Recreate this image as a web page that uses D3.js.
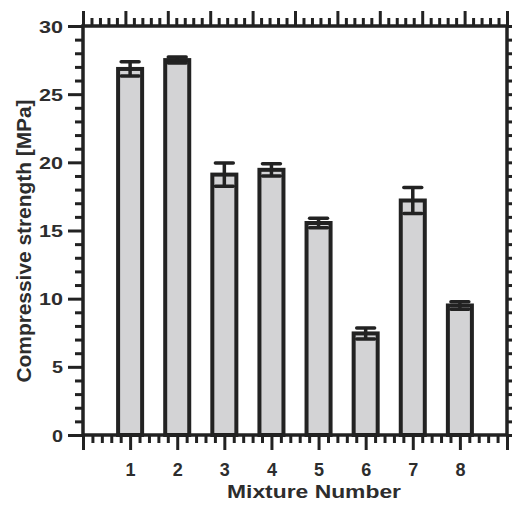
<!DOCTYPE html>
<html>
<head>
<meta charset="utf-8">
<script src="https://cdn.jsdelivr.net/npm/d3@7"></script>
<style>
  html, body { margin: 0; padding: 0; background: #fff; }
  svg { display: block; }
  text { font-family: "Liberation Sans", Arial, sans-serif; font-weight: bold; fill: #2d2d2d; }
</style>
</head>
<body>
<svg id="chart" width="512" height="506"></svg>
<script>
// Compressive strength per mixture (mean and standard deviation, MPa)
const mixtures = [1, 2, 3, 4, 5, 6, 7, 8];
const strength = [26.85, 27.5, 19.1, 19.45, 15.55, 7.45, 17.2, 9.5];
const stdev    = [0.52, 0.22, 0.85, 0.45, 0.35, 0.4, 0.95, 0.27];
const yTicks   = [0, 5, 10, 15, 20, 25, 30];
const xLabels  = ["1", "2", "3", "4", "5", "6", "7", "8"];
const xTitle   = "Mixture Number";
const yTitle   = "Compressive strength [MPa]";

const ink = "#222";
const textInk = "#2d2d2d";
const barFill = "#d3d3d5";

const svg = d3.select("#chart");
const frame = { left: 83, right: 507, top: 26, bottom: 435 };

const x = d3.scaleLinear().domain([0, 9]).range([frame.left, frame.right]);
const xTop = d3.scaleLinear().domain([0, 10]).range([frame.left, frame.right]);
const y = d3.scaleLinear().domain([0, 30]).range([frame.bottom, frame.top]);

const barW = x(0.51) - x(0);
const capW = x(0.38) - x(0);

// bars
svg.append("g").selectAll("rect")
  .data(mixtures)
  .join("rect")
  .attr("x", (d) => x(d) - barW / 2)
  .attr("y", (d, i) => y(strength[i]))
  .attr("width", barW)
  .attr("height", (d, i) => y(0) - y(strength[i]))
  .attr("fill", barFill)
  .attr("stroke", ink)
  .attr("stroke-width", 4);

// error bars
const eb = svg.append("g").attr("stroke", ink).attr("fill", "none");
mixtures.forEach((m, i) => {
  const cx = x(m), hi = y(strength[i] + stdev[i]), lo = y(strength[i] - stdev[i]);
  eb.append("line").attr("x1", cx).attr("x2", cx).attr("y1", hi).attr("y2", lo).attr("stroke-width", 3.5);
  eb.append("line").attr("x1", cx - capW / 2).attr("x2", cx + capW / 2).attr("y1", hi).attr("y2", hi).attr("stroke-width", 3.5).attr("stroke-linecap", "round");
  eb.append("line").attr("x1", cx - capW / 2).attr("x2", cx + capW / 2).attr("y1", lo).attr("y2", lo).attr("stroke-width", 3.5).attr("stroke-linecap", "round");
});

function styleAxis(g, w) {
  g.select(".domain").remove();
  g.selectAll(".tick line").attr("stroke", ink).attr("stroke-width", w);
}

const minorOf = (lo, hi, step, majorStep) =>
  d3.range(lo, hi + step / 2, step).filter((v) => Math.abs(v / majorStep - Math.round(v / majorStep)) > 1e-6);

// left axis
svg.append("g").attr("transform", `translate(${frame.left},0)`)
  .call(d3.axisLeft(y).tickValues(minorOf(0, 30, 1, 5)).tickSize(8).tickFormat(""))
  .call((g) => styleAxis(g, 3));
const left = svg.append("g").attr("transform", `translate(${frame.left},0)`)
  .call(d3.axisLeft(y).tickValues(yTicks).tickSize(15).tickPadding(5).tickFormat(d3.format("d")))
  .call((g) => styleAxis(g, 3));
left.selectAll(".tick text")
  .attr("font-size", 17).attr("fill", textInk).attr("font-family", null).attr("dy", "0.36em")
  .attr("textLength", (d) => (String(d).length > 1 ? 24 : 11))
  .attr("lengthAdjust", "spacingAndGlyphs");

// right axis
svg.append("g").attr("transform", `translate(${frame.right},0)`)
  .call(d3.axisRight(y).tickValues(minorOf(0, 30, 1, 5)).tickSize(8).tickFormat(""))
  .call((g) => styleAxis(g, 3));
svg.append("g").attr("transform", `translate(${frame.right},0)`)
  .call(d3.axisRight(y).tickValues(yTicks).tickSize(15).tickFormat(""))
  .call((g) => styleAxis(g, 3));

// top axis
svg.append("g").attr("transform", `translate(0,${frame.top})`)
  .call(d3.axisTop(xTop).tickValues(minorOf(0, 10, 0.2, 1)).tickSize(8).tickFormat(""))
  .call((g) => styleAxis(g, 3));
svg.append("g").attr("transform", `translate(0,${frame.top})`)
  .call(d3.axisTop(xTop).tickValues(d3.range(0, 11)).tickSize(15).tickFormat(""))
  .call((g) => styleAxis(g, 3));

// bottom axis
svg.append("g").attr("transform", `translate(0,${frame.bottom})`)
  .call(d3.axisBottom(x).tickValues(minorOf(0, 9, 0.2, 1)).tickSize(8).tickFormat(""))
  .call((g) => styleAxis(g, 3));
svg.append("g").attr("transform", `translate(0,${frame.bottom})`)
  .call(d3.axisBottom(x).tickValues(d3.range(0, 10)).tickSize(15).tickFormat(""))
  .call((g) => styleAxis(g, 3));
svg.append("g").attr("transform", `translate(0,${frame.bottom})`)
  .call(d3.axisBottom(x).tickValues(mixtures).tickSize(0).tickPadding(41).tickFormat((d, i) => xLabels[i]))
  .call((g) => g.select(".domain").remove())
  .selectAll(".tick text").attr("font-size", 18).attr("fill", textInk).attr("font-family", null).attr("dy", "0");

// frame
svg.append("rect")
  .attr("x", frame.left).attr("y", frame.top)
  .attr("width", frame.right - frame.left).attr("height", frame.bottom - frame.top)
  .attr("fill", "none").attr("stroke", ink).attr("stroke-width", 3.5);

// titles
svg.append("text")
  .attr("x", 314).attr("y", 498)
  .attr("text-anchor", "middle").attr("font-size", 18.5)
  .attr("textLength", 174).attr("lengthAdjust", "spacingAndGlyphs")
  .text(xTitle);

svg.append("text")
  .attr("transform", `translate(31,${241}) rotate(-90)`)
  .attr("text-anchor", "middle").attr("font-size", 20.5)
  .attr("textLength", 283).attr("lengthAdjust", "spacingAndGlyphs")
  .text(yTitle);
</script>
</body>
</html>
